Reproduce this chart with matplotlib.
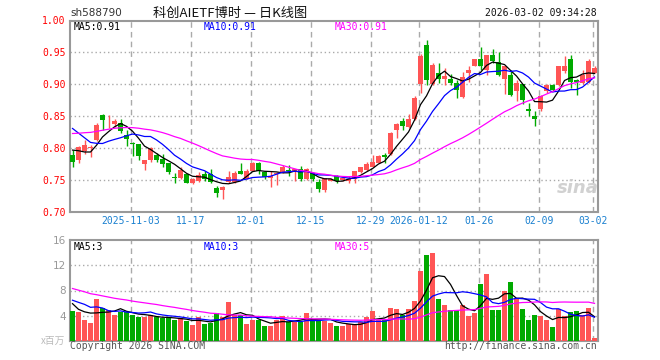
import numpy as np
import matplotlib
matplotlib.use("Agg")
import matplotlib.pyplot as plt

# daily candles, 2025-10-20 .. 2026-03-02 (88 trading days)
opens = [0.789, 0.782, 0.796, 0.800, 0.813, 0.852, 0.842, 0.838, 0.839, 0.820,
         0.808, 0.806, 0.775, 0.782, 0.790, 0.783, 0.776, 0.755, 0.753, 0.760,
         0.746, 0.749, 0.760, 0.760, 0.738, 0.735, 0.747, 0.747, 0.764, 0.752,
         0.765, 0.777, 0.763, 0.754, 0.759, 0.763, 0.765, 0.762, 0.767, 0.751,
         0.761, 0.747, 0.734, 0.749, 0.757, 0.750, 0.749, 0.752, 0.762, 0.766,
         0.771, 0.777, 0.790, 0.791, 0.828, 0.843, 0.833, 0.845, 0.900, 0.961,
         0.900, 0.918, 0.909, 0.908, 0.902, 0.880, 0.918, 0.929, 0.939, 0.922,
         0.946, 0.935, 0.909, 0.915, 0.890, 0.901, 0.862, 0.850, 0.861, 0.889,
         0.899, 0.899, 0.921, 0.939, 0.907, 0.902, 0.904, 0.917]
closes = [0.779, 0.802, 0.805, 0.801, 0.836, 0.844, 0.843, 0.843, 0.827, 0.814,
          0.806, 0.788, 0.781, 0.801, 0.782, 0.775, 0.762, 0.754, 0.766, 0.746,
          0.752, 0.758, 0.751, 0.747, 0.729, 0.739, 0.755, 0.761, 0.759, 0.764,
          0.777, 0.764, 0.755, 0.757, 0.761, 0.770, 0.764, 0.768, 0.751, 0.768,
          0.751, 0.736, 0.754, 0.751, 0.748, 0.753, 0.752, 0.764, 0.770, 0.775,
          0.779, 0.788, 0.786, 0.823, 0.838, 0.835, 0.845, 0.879, 0.944, 0.907,
          0.930, 0.909, 0.913, 0.902, 0.891, 0.911, 0.923, 0.939, 0.929, 0.946,
          0.937, 0.915, 0.928, 0.883, 0.902, 0.876, 0.859, 0.845, 0.882, 0.899,
          0.891, 0.929, 0.929, 0.904, 0.904, 0.915, 0.937, 0.925]
highs = [0.797, 0.803, 0.813, 0.805, 0.839, 0.853, 0.852, 0.845, 0.845, 0.828,
         0.809, 0.806, 0.781, 0.802, 0.792, 0.791, 0.777, 0.761, 0.771, 0.760,
         0.753, 0.762, 0.764, 0.767, 0.741, 0.741, 0.765, 0.765, 0.777, 0.767,
         0.779, 0.778, 0.764, 0.764, 0.762, 0.774, 0.774, 0.768, 0.772, 0.769,
         0.762, 0.751, 0.754, 0.753, 0.758, 0.756, 0.756, 0.765, 0.771, 0.778,
         0.790, 0.790, 0.792, 0.825, 0.839, 0.847, 0.854, 0.881, 0.947, 0.969,
         0.933, 0.933, 0.925, 0.916, 0.907, 0.920, 0.928, 0.939, 0.958, 0.946,
         0.956, 0.951, 0.928, 0.923, 0.907, 0.901, 0.870, 0.859, 0.883, 0.901,
         0.900, 0.929, 0.944, 0.946, 0.908, 0.922, 0.939, 0.928]
lows = [0.771, 0.777, 0.791, 0.786, 0.812, 0.828, 0.831, 0.833, 0.823, 0.804,
        0.788, 0.781, 0.766, 0.779, 0.779, 0.771, 0.760, 0.745, 0.752, 0.745,
        0.744, 0.747, 0.749, 0.746, 0.724, 0.720, 0.745, 0.746, 0.759, 0.751,
        0.764, 0.760, 0.751, 0.739, 0.743, 0.761, 0.756, 0.748, 0.749, 0.750,
        0.749, 0.732, 0.732, 0.748, 0.745, 0.748, 0.745, 0.745, 0.761, 0.765,
        0.770, 0.776, 0.777, 0.790, 0.816, 0.828, 0.831, 0.844, 0.887, 0.899,
        0.899, 0.902, 0.899, 0.899, 0.878, 0.878, 0.904, 0.928, 0.922, 0.915,
        0.934, 0.913, 0.885, 0.882, 0.874, 0.869, 0.851, 0.835, 0.859, 0.887,
        0.889, 0.897, 0.917, 0.894, 0.883, 0.901, 0.902, 0.917]
# volume, millions
volumes = [4.75, 4.6, 3.3, 2.8, 6.7, 5.2, 4.85, 4.1, 4.65, 4.65,
           4.1, 3.7, 3.7, 4.05, 3.7, 3.55, 3.55, 3.3, 3.55, 3.2,
           2.5, 3.7, 2.65, 2.9, 4.4, 3.7, 6.2, 4.05, 4.05, 2.65,
           3.3, 3.3, 2.35, 2.35, 3.3, 3.95, 3.05, 3.05, 3.05, 4.4,
           3.3, 3.3, 3.2, 2.8, 2.35, 2.35, 2.65, 2.65, 3.05, 3.7,
           4.75, 3.3, 3.3, 5.2, 5.05, 4.05, 5.05, 6.35, 11.15, 13.7,
           13.9, 6.65, 5.7, 4.9, 4.9, 5.7, 3.95, 4.4, 9.05, 10.65,
           4.9, 4.9, 7.85, 9.4, 6.75, 5.05, 3.3, 4.1, 3.95, 3.3,
           2.2, 5.0, 3.95, 4.65, 4.75, 4.1, 5.2, 0.43]

# 29 sessions before the window (estimated from where the MA lines start)
hist_close = [0.790, 0.780, 0.785, 0.790, 0.790, 0.795, 0.800, 0.800, 0.805, 0.810,
              0.815, 0.825, 0.835, 0.840, 0.845, 0.850, 0.855, 0.850, 0.860, 0.860,
              0.875, 0.878, 0.874, 0.850, 0.847, 0.807, 0.815, 0.801, 0.783]
hist_vol = [12.5, 11.0, 12.0, 11.4, 11.0, 10.5, 9.8, 9.0, 8.5, 9.5,
            8.0, 7.6, 8.2, 7.5, 8.8, 8.0, 7.4, 8.6, 7.7, 8.0,
            8.0, 6.5, 7.5, 6.0, 7.0, 9.1, 5.3, 3.8, 6.55]

tick_idx = [10, 20, 30, 40, 50, 58, 68, 78, 87]
tick_lbl = ["2025-11-03", "11-17", "12-01", "12-15", "12-29",
            "2026-01-12", "01-26", "02-09", "03-02"]

ma_price_lbl = ["MA5:0.91", "MA10:0.91", "MA30:0.91"]
ma_vol_lbl = ["MA5:3", "MA10:3", "MA30:5"]

RED = "#ff5555"
GREEN = "#00aa00"
MONO = "DejaVu Sans Mono"
MA_COLORS = ["black", "#0000ff", "#ff00ff"]


def ma(hist, vals, n):
    s = np.array(hist + vals, dtype=float)
    out = np.convolve(s, np.ones(n) / n, mode="valid")
    return out[-len(vals):]


W, H = 660, 360
fig = plt.figure(figsize=(6.6, 3.6), dpi=100)


def ax_rect(x0, y0, x1, y1):
    return [x0 / W, 1 - y1 / H, (x1 - x0) / W, (y1 - y0) / H]


ax = fig.add_axes(ax_rect(70, 20.5, 598, 212))
vax = fig.add_axes(ax_rect(70, 240.3, 598, 340.7))

n = len(closes)
x = np.arange(n)
o = np.array(opens)
c = np.array(closes)
up = c >= o
cols = np.where(up, RED, GREEN)

# candles
ax.vlines(x, lows, highs, colors=cols, linewidth=1, zorder=3)
bottom = np.minimum(o, c)
height = np.maximum(np.abs(c - o), 0.0012)
ax.bar(x, height, bottom=bottom, width=0.8, color=cols, linewidth=0, zorder=4)

for k, col in zip([5, 10, 30], MA_COLORS):
    ax.plot(x, ma(hist_close, closes, k), color=col, linewidth=0.9, zorder=5)

# volume
vax.bar(x, volumes, width=0.8, color=cols, linewidth=0, zorder=3)
for k, col in zip([5, 10, 30], MA_COLORS):
    vax.plot(x, ma(hist_vol, volumes, k), color=col, linewidth=0.9, zorder=5)

xlim = (-0.42, 87.58)
for a in (ax, vax):
    a.set_xlim(*xlim)
    for s in a.spines.values():
        s.set_color("#999999")
        s.set_linewidth(1.5)
    for t in tick_idx:
        a.axvline(t - 0.3, color="#aaaaaa", linestyle=(0, (4, 3)), linewidth=1, zorder=1)
    a.tick_params(length=0)

ax.set_ylim(0.70, 1.00)
yt = [0.70, 0.75, 0.80, 0.85, 0.90, 0.95, 1.00]
ax.set_yticks(yt)
ax.set_yticklabels(["%.2f" % v for v in yt], family=MONO, fontsize=7, color="#ff0000")
for v in yt[1:-1]:
    ax.axhline(v, color="#aaaaaa", linestyle=(0, (1, 2)), linewidth=1, zorder=1)
ax.set_xticks([t - 0.3 for t in tick_idx])
ax.set_xticklabels(tick_lbl, family=MONO, fontsize=7, color="#1a80d0")
ax.tick_params(axis="y", pad=3)
ax.tick_params(axis="x", pad=3)

vax.set_ylim(0, 16)
vax.set_yticks([4, 8, 12, 16])
vax.set_yticklabels(["4", "8", "12", "16"], family="DejaVu Sans", fontsize=7.5, color="#999999")
vax.set_xticks([])
vax.tick_params(axis="y", pad=3)
for v in [4, 8, 12]:
    vax.axhline(v, color="#aaaaaa", linestyle=(0, (1, 2)), linewidth=1, zorder=1)


def ftext(px, py, s, **kw):
    fig.text(px / W, 1 - py / H, s, **kw)


# header
ftext(70, 13, "sh588790", family="DejaVu Sans", fontsize=7.5, color="#333333", va="center")
ftext(230, 13, "科创AIETF博时 — 日K线图", family=["Noto Sans CJK SC", "DejaVu Sans"],
      fontsize=9.5, color="#111111", ha="center", va="center")
ftext(597, 13, "2026-03-02 09:34:28", family=MONO, fontsize=7, color="#111111",
      ha="right", va="center")

# MA legends
for lbl, col, px in zip(ma_price_lbl, MA_COLORS, [74, 204, 335]):
    ftext(px, 26.5, lbl, family=MONO, fontsize=7, color=col, va="center")
for lbl, col, px in zip(ma_vol_lbl, MA_COLORS, [74, 204, 335]):
    ftext(px, 246.5, lbl, family=MONO, fontsize=7, color=col, va="center")

# footer
ftext(70, 346, "Copyright 2026 SINA.COM", family=MONO, fontsize=7, color="#555555", va="center")
ftext(597, 346, "http://finance.sina.com.cn", family=MONO, fontsize=7, color="#555555",
      ha="right", va="center")
ftext(65, 341, "x百万", family=["Noto Sans CJK SC", "DejaVu Sans"], fontsize=7,
      color="#bbbbbb", ha="right", va="center")

# watermark
ftext(578, 188, "sina", family="DejaVu Sans", fontsize=13, fontweight="bold",
      fontstyle="italic", color="#cccccc", ha="center", va="center", alpha=0.9)

fig.savefig("out.png", dpi=100)
